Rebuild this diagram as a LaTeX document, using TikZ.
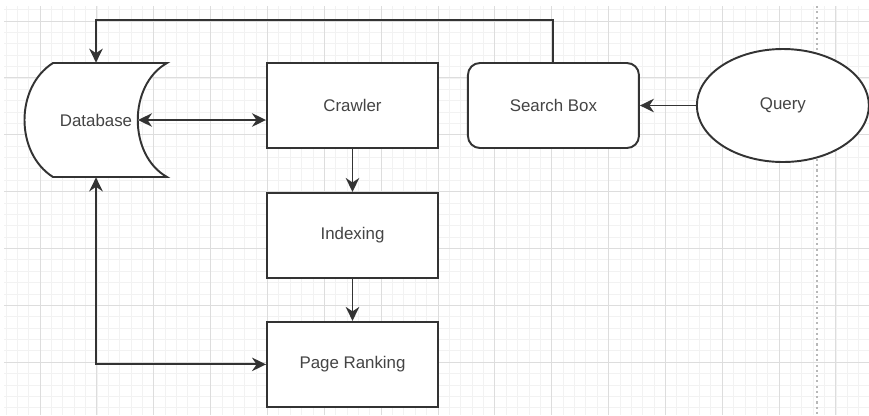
\documentclass[tikz,border=0pt]{standalone}
\usepackage{fontspec}
\setmainfont{Liberation Sans}
\usetikzlibrary{arrows.meta,positioning,shapes.geometric}
\definecolor{SketchInk}{HTML}{333333}
\definecolor{SketchText}{HTML}{444444}
\definecolor{GridMinor}{HTML}{F2F2F2}
\definecolor{GridMajor}{HTML}{DDDDDD}
\definecolor{PageEdge}{HTML}{B8B8B8}
\tikzset{
  process/.style={draw=SketchInk, line width=1.1pt, fill=white, text=SketchText,
    font=\fontsize{9.6}{11}\selectfont, align=center, minimum width=34.2mm, minimum height=17mm},
  entry/.style={process, rounded corners=2.4mm},
  source/.style={process, ellipse, minimum width=34.4mm, minimum height=22.6mm},
  store/.style={text=SketchText, font=\fontsize{9.6}{11}\selectfont,
    minimum width=28.4mm, minimum height=22.8mm},
  storeline/.style={draw=SketchInk, line width=1.1pt, fill=white},
  wire/.style={-{Stealth[length=2.8mm, width=2.7mm, inset=0.9mm]}, line width=1.1pt, draw=SketchInk},
  biwire/.style={wire, {Stealth[length=2.8mm, width=2.7mm, inset=0.9mm]}-{Stealth[length=2.8mm, width=2.7mm, inset=0.9mm]}}
}

\begin{document}
\begin{tikzpicture}
  \useasboundingbox (0,0) rectangle (17.38,-8.30);
  % canvas grid and page edge
  \draw[GridMinor, line width=0.4pt, shift={(0.80,-0.42)}, step=2.274mm] (-0.72,0.30) grid (16.58,-7.88);
  \draw[GridMajor, line width=0.5pt, shift={(0.80,-0.42)}, step=11.37mm] (-0.72,0.30) grid (16.58,-7.88);
  \draw[PageEdge, line width=0.8pt, dash pattern=on 1.2pt off 1.8pt] (16.34,-0.12) -- (16.34,-8.30);

  % database outline first, text on top
  \coordinate (dbspot) at (1.92,-2.40);
  \draw[storeline, shift={(dbspot)}] (-0.86,1.14) -- (1.42,1.14)
    .. controls (0.64,0.70) and (0.64,-0.70) .. (1.42,-1.14) -- (-0.86,-1.14)
    .. controls (-1.62,-0.66) and (-1.62,0.66) .. cycle;
  \node[store] (database) at (dbspot) {Database};

  \node[process] (crawler) at (7.05,-2.11) {Crawler};
  \node[entry, right=5.6mm of crawler] (searchbox) {Search Box};
  \node[source, right=11.2mm of searchbox] (query) {Query};
  \node[process, below=8.6mm of crawler] (indexing) {Indexing};
  \node[process, below=8.4mm of indexing] (pagerank) {Page Ranking};
  \coordinate (dbin) at ([xshift=8.4mm]database.center);

  \draw[wire] (query) -- (searchbox);
  \draw[wire] (searchbox.north) -- ++(0,0.84) -| (database.north);
  \draw[biwire] (dbin) -- (dbin -| crawler.west);
  \draw[wire] (crawler) -- (indexing);
  \draw[wire] (indexing) -- (pagerank);
  \draw[biwire] (database.south) |- (pagerank.west);
\end{tikzpicture}
\end{document}
